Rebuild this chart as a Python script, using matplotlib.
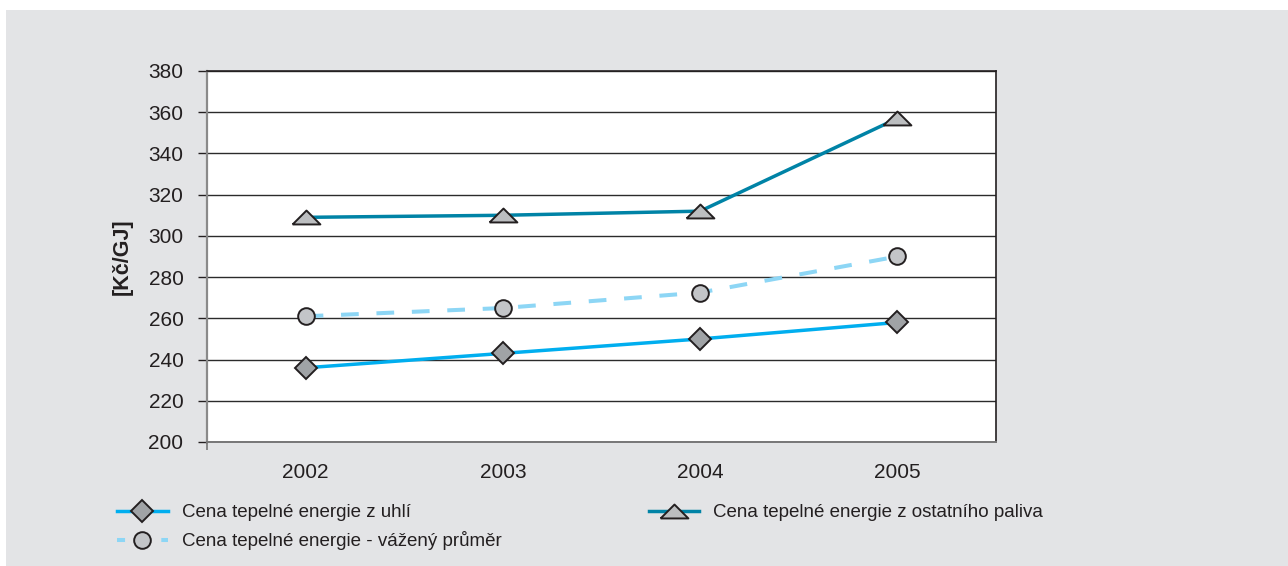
import numpy as np
import matplotlib
matplotlib.use("Agg")
import matplotlib.pyplot as plt
from matplotlib.patches import Rectangle
from matplotlib.lines import Line2D

plt.rcParams['font.family'] = ['Liberation Sans', 'DejaVu Sans']

# data
years = ['2002', '2003', '2004', '2005']
uhli = [236, 243, 250, 258]
prumer = [261, 265, 272.5, 290]
ostatni = [309, 310, 312, 357]

labels = ['Cena tepelné energie z uhlí',
          'Cena tepelné energie - vážený průměr',
          'Cena tepelné energie z ostatního paliva']

txt = '#231f20'
bg = '#e3e4e6'

fig = plt.figure(figsize=(12.88, 5.66), dpi=100)
fig.patch.set_facecolor('white')
fig.patches.append(Rectangle((6/1288, 0), 1 - 6/1288, 556/566, transform=fig.transFigure,
                             facecolor=bg, edgecolor='none', zorder=-10))

ax = fig.add_axes([207/1288, 124/566, 789/1288, 371/566])
ax.set_facecolor('white')
x = np.arange(len(years))

tri = [(-1, -0.5), (1, -0.5), (0, 0.5), (-1, -0.5)]

l1, = ax.plot(x, uhli, color='#00aeef', lw=2.5, marker='D', ms=11.5,
              mfc='#a0a3a6', mec=txt, mew=1.4, zorder=4)
l2, = ax.plot(x, prumer, color='#8dd6f5', lw=2.9, ls=(0, (4.4, 4.4)), marker='o', ms=12,
              mfc='#c3c5c8', mec=txt, mew=1.4, zorder=4)
l3, = ax.plot(x, ostatni, color='#0083a6', lw=2.5, marker=tri, ms=20,
              mfc='#bcbec0', mec=txt, mew=1.4, zorder=4)

# legend proxy with shorter dashes
l2_leg = Line2D([], [], color='#8dd6f5', lw=2.9, ls=(0, (2.0, 3.5)), marker='o', ms=12,
                mfc='#c3c5c8', mec=txt, mew=1.4)

ax.set_xlim(-0.5, 3.5)
ax.set_ylim(200, 380)
ax.set_yticks(np.arange(200, 381, 20))
ax.grid(axis='y', color='#2b2b2b', lw=1)
ax.set_axisbelow(True)
ax.set_xticks(x)
ax.set_xticklabels(years)
ax.tick_params(axis='x', length=0, pad=15, labelsize=15, labelcolor=txt)
ax.set_xticks([-0.5], minor=True)
ax.tick_params(axis='x', which='minor', length=6, width=1.2, color='#777777')
ax.tick_params(axis='y', length=6.5, width=1, color=txt, pad=10.5,
               labelsize=15, labelcolor=txt)

for s in ['top', 'right']:
    ax.spines[s].set_color(txt)
    ax.spines[s].set_linewidth(1.2)
ax.spines['left'].set_color('#8a8a8a')
ax.spines['left'].set_linewidth(1.6)
ax.spines['bottom'].set_color('#777777')
ax.spines['bottom'].set_linewidth(1.4)

ax.set_ylabel('[Kč/GJ]', fontsize=15.5, fontweight='bold', color=txt, labelpad=11)

fig.legend([l1, l2_leg, l3], labels, ncol=2, loc='upper left',
           bbox_to_anchor=(117/1288, 62/566), frameon=False, fontsize=13.5,
           handlelength=2.7, handletextpad=0.75, columnspacing=7.85,
           labelspacing=0.55, borderpad=0, borderaxespad=0, labelcolor=txt)

fig.savefig('out.png', dpi=100)
